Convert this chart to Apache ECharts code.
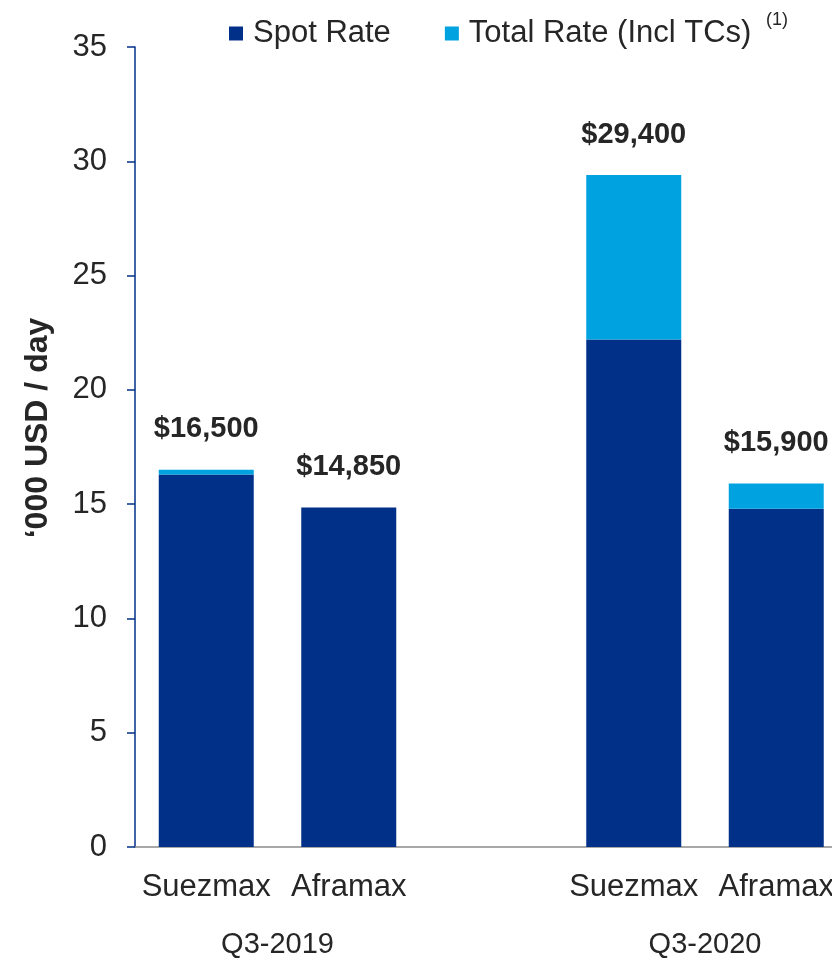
<!DOCTYPE html>
<html>
<head>
<meta charset="utf-8">
<script src="https://cdn.jsdelivr.net/npm/echarts@6/dist/echarts.min.js"></script>
<style>
  html, body { margin: 0; padding: 0; background: #fff; overflow: hidden; }
  /* the plot runs slightly past the right edge of the page */
  #chart { width: 848px; height: 960px; }
</style>
</head>
<body>
<div id="chart"></div>
<script>
// Vessel types per quarter; the empty slot separates the two quarters
const categories = ['Suezmax', 'Aframax', '', 'Suezmax', 'Aframax'];
const groupLabels = ['Q3-2019', 'Q3-2020'];
const groupPositions = [1, 4];           // band boundaries between each pair of bars
// Rates in '000 USD / day
const spotRate = [16.3, 14.85, null, 22.2, 14.8];
const tcUplift = [0.2, 0, null, 7.2, 1.1];
const yTicks = [0, 5, 10, 15, 20, 25, 30, 35];

const totals = spotRate.map((v, i) => v == null ? null : +(v + tcUplift[i]).toFixed(2));
const fmtUsd = v => '$' + Math.round(v * 1000).toLocaleString('en-US');

const DARK = '#003087';
const LIGHT = '#00A3E0';
const TEXT = '#262626';
const FONT = '"Liberation Sans", Arial, sans-serif';

const chart = echarts.init(document.getElementById('chart'), null, { renderer: 'canvas' });
chart.setOption({
  animation: false,
  textStyle: { fontFamily: FONT, color: TEXT },
  legend: {
    top: 13,
    left: 224,
    itemWidth: 14,
    itemHeight: 14,
    itemGap: 54,
    icon: 'rect',
    textStyle: {
      fontSize: 31,
      color: TEXT,
      fontFamily: FONT,
      padding: [0, 0, 0, 5]
    },
    data: ['Spot Rate', 'Total Rate (Incl TCs)']
  },
  // footnote marker on the second legend entry
  graphic: [{
    type: 'text',
    left: 766,
    top: 11,
    style: { text: '(1)', fontSize: 18, fill: TEXT, fontFamily: FONT }
  }],
  grid: { left: 135, top: 47, bottom: 113, right: 0.5, containLabel: false, outerBoundsMode: 'none' },
  xAxis: [
    {
      type: 'category',
      data: categories,
      axisLine: { lineStyle: { color: '#8c8c8c', width: 1.5 } },
      axisTick: { show: false },
      axisLabel: { fontSize: 31, color: TEXT, margin: 25, fontFamily: FONT, interval: 0 }
    },
    {
      type: 'value',
      position: 'bottom',
      min: 0,
      max: categories.length,
      interval: 1,
      offset: 0,
      axisLine: { show: false },
      axisTick: { show: false },
      splitLine: { show: false },
      axisLabel: {
        fontSize: 29,
        color: TEXT,
        margin: 83,
        fontFamily: FONT,
        formatter: v => {
          const k = groupPositions.indexOf(v);
          return k >= 0 ? groupLabels[k] : '';
        }
      }
    }
  ],
  yAxis: {
    type: 'value',
    min: 0,
    max: 35,
    interval: 5,
    name: '‘000 USD / day',
    nameLocation: 'middle',
    nameGap: 81,
    nameTextStyle: { fontSize: 32, fontWeight: 'bold', color: TEXT, fontFamily: FONT, padding: [0, 0, 0, 38] },
    axisLine: { show: true, lineStyle: { color: DARK, width: 1.5 } },
    axisTick: { show: true, length: 8, lineStyle: { color: DARK, width: 1.5 } },
    splitLine: { show: false },
    axisLabel: {
      fontSize: 31,
      color: TEXT,
      margin: 28,
      fontFamily: FONT,
      formatter: v => yTicks.includes(v) ? String(v) : ''
    }
  },
  series: [
    {
      name: 'Spot Rate',
      type: 'bar',
      stack: 'rate',
      barWidth: 95,
      itemStyle: { color: DARK },
      data: spotRate
    },
    {
      name: 'Total Rate (Incl TCs)',
      type: 'bar',
      stack: 'rate',
      barWidth: 95,
      itemStyle: { color: LIGHT },
      data: tcUplift,
      label: {
        show: true,
        position: 'top',
        distance: 26,
        fontSize: 29,
        fontWeight: 'bold',
        color: TEXT,
        fontFamily: FONT,
        formatter: p => totals[p.dataIndex] == null ? '' : fmtUsd(totals[p.dataIndex])
      }
    }
  ]
});
</script>
</body>
</html>
